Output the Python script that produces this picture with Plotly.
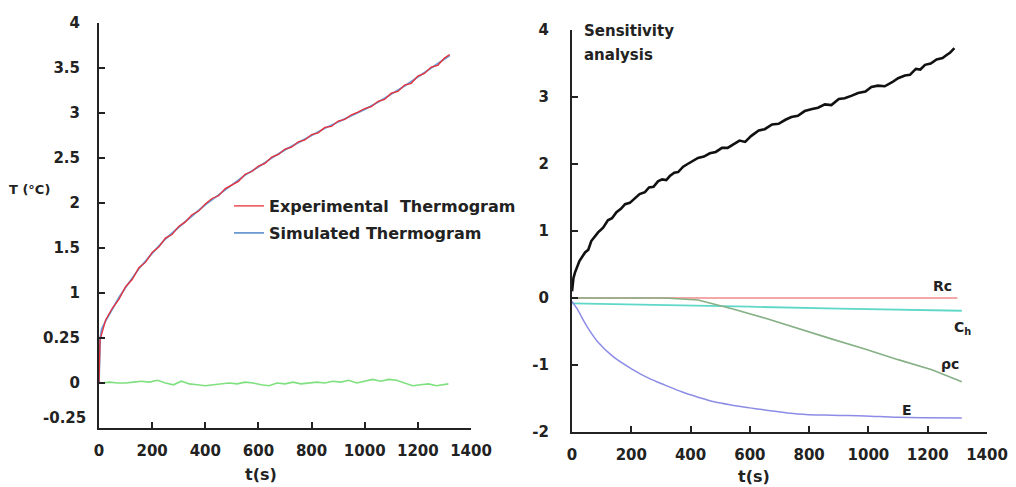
import plotly.graph_objects as go

# ---------------- Left panel data ----------------
sim_t = [0, 4, 10, 25, 50, 75, 100, 150, 200, 250, 300, 350, 400, 450, 500, 550, 600,
         650, 700, 750, 800, 850, 900, 950, 1000, 1050, 1100, 1150, 1200, 1250, 1300, 1320]
sim_T = [0.0, 0.48, 0.6, 0.69, 0.82, 0.95, 1.06, 1.27, 1.44, 1.60, 1.73, 1.86, 1.98, 2.09,
         2.20, 2.31, 2.40, 2.50, 2.59, 2.67, 2.75, 2.83, 2.90, 2.97, 3.04, 3.12, 3.21, 3.30,
         3.40, 3.50, 3.60, 3.64]

exp_t = [0, 4, 25, 50, 75, 100, 125, 150, 175, 200, 225, 250, 275, 300, 325, 350, 375, 400,
         425, 450, 475, 500, 525, 550, 575, 600, 625, 650, 675, 700, 725, 750, 775, 800, 825,
         850, 875, 900, 925, 950, 975, 1000, 1025, 1050, 1075, 1100, 1125, 1150, 1175, 1200,
         1225, 1250, 1275, 1300, 1320]
exp_T = [0.0, 0.48, 0.70, 0.83, 0.93, 1.07, 1.15, 1.28, 1.34, 1.45, 1.51, 1.61, 1.65, 1.74,
         1.79, 1.87, 1.91, 1.99, 2.05, 2.08, 2.16, 2.20, 2.24, 2.32, 2.35, 2.41, 2.44, 2.51,
         2.54, 2.60, 2.62, 2.68, 2.70, 2.76, 2.78, 2.84, 2.85, 2.91, 2.93, 2.98, 3.01, 3.05,
         3.07, 3.13, 3.15, 3.22, 3.24, 3.31, 3.33, 3.41, 3.44, 3.51, 3.53, 3.61, 3.65]

res_t = [10, 40, 70, 100, 130, 160, 190, 220, 250, 280, 310, 340, 370, 400, 430, 460, 490,
         520, 550, 580, 610, 640, 670, 700, 730, 760, 790, 820, 850, 880, 910, 940, 970, 1000,
         1030, 1060, 1090, 1120, 1150, 1180, 1210, 1240, 1270, 1300, 1315]
res_T = [0.0, 0.01, 0.0, 0.0, 0.01, 0.02, 0.01, 0.03, 0.0, -0.02, 0.02, -0.01, -0.02, -0.03,
         -0.02, -0.01, 0.0, -0.01, 0.01, 0.0, -0.02, -0.03, 0.0, -0.01, 0.01, -0.01, 0.0, 0.01,
         0.0, 0.02, 0.01, 0.03, 0.0, 0.02, 0.04, 0.02, 0.04, 0.03, 0.0, -0.03, -0.02, -0.01,
         -0.03, -0.02, -0.01]

left_ytick_vals = [0, 0.5, 1, 1.5, 2, 2.5, 3, 3.5, 4]
left_ytick_text = ["0", "0.25", "1", "1.5", "2", "2.5", "3", "3.5", "4"]
xtick_vals = [0, 200, 400, 600, 800, 1000, 1200, 1400]
xtick_text = ["0", "200", "400", "600", "800", "1000", "1200", "1400"]

# ---------------- Right panel data ----------------
sens_t = [0, 5, 10, 25, 44, 55, 65, 88, 105, 121, 135, 150, 165, 179, 195, 210, 228, 246,
          260, 275, 290, 304, 318, 330, 345, 358, 375, 390, 408, 425, 445, 465, 485, 506,
          525, 545, 565, 584, 605, 630, 650, 675, 697, 720, 740, 762, 785, 810, 830, 853,
          875, 900, 920, 944, 965, 990, 1010, 1032, 1055, 1080, 1100, 1123, 1140, 1160,
          1175, 1191, 1210, 1230, 1250, 1265, 1275, 1290]
sens_T = [0.1, 0.3, 0.38, 0.55, 0.68, 0.72, 0.85, 0.98, 1.05, 1.16, 1.19, 1.28, 1.33, 1.40,
          1.42, 1.48, 1.55, 1.58, 1.65, 1.66, 1.74, 1.77, 1.76, 1.82, 1.87, 1.88, 1.96, 2.00,
          2.04, 2.09, 2.11, 2.16, 2.18, 2.24, 2.24, 2.29, 2.35, 2.33, 2.42, 2.50, 2.52, 2.59,
          2.60, 2.66, 2.70, 2.72, 2.79, 2.82, 2.84, 2.89, 2.88, 2.97, 2.98, 3.02, 3.06, 3.08,
          3.15, 3.17, 3.16, 3.22, 3.28, 3.32, 3.33, 3.42, 3.41, 3.48, 3.50, 3.56, 3.58, 3.63,
          3.66, 3.73]

rc_t = [0, 1300]
rc_s = [0.0, 0.0]

ch_t = [0, 300, 600, 900, 1315]
ch_s = [-0.08, -0.10, -0.13, -0.16, -0.19]

rhoc_t = [0, 200, 314, 425, 540, 650, 762, 875, 988, 1100, 1214, 1315]
rhoc_s = [0.0, 0.0, 0.0, -0.03, -0.16, -0.30, -0.46, -0.61, -0.76, -0.92, -1.07, -1.25]

e_t = [0, 17, 50, 88, 140, 202, 260, 314, 370, 425, 480, 540, 600, 651, 762, 877, 988, 1100, 1315]
e_s = [-0.05, -0.16, -0.42, -0.66, -0.88, -1.06, -1.20, -1.30, -1.40, -1.48, -1.55, -1.60,
       -1.64, -1.67, -1.73, -1.75, -1.76, -1.78, -1.79]

right_ytick_vals = [-2, -1, 0, 1, 2, 3, 4]
right_ytick_text = ["-2", "-1", "0", "1", "2", "3", "4"]

FONT = "DejaVu Sans"
INK = "#222222"

fig = go.Figure()

# left panel traces
fig.add_trace(go.Scatter(x=sim_t, y=sim_T, mode="lines", name="Simulated Thermogram",
                         line=dict(color="#6c9bd2", width=1.8), xaxis="x", yaxis="y",
                         legend="legend2"))
fig.add_trace(go.Scatter(x=exp_t, y=exp_T, mode="lines", name="Experimental\u00a0 Thermogram",
                         line=dict(color="#e8303a", width=1.3),
                         xaxis="x", yaxis="y", legend="legend"))
fig.add_trace(go.Scatter(x=res_t, y=res_T, mode="lines", showlegend=False,
                         line=dict(color="#7fe07f", width=1.6), xaxis="x", yaxis="y"))

# right panel traces
fig.add_trace(go.Scatter(x=rc_t, y=rc_s, mode="lines", showlegend=False,
                         line=dict(color="#f08a8a", width=1.5), xaxis="x2", yaxis="y2"))
fig.add_trace(go.Scatter(x=ch_t, y=ch_s, mode="lines", showlegend=False,
                         line=dict(color="#5fd8c8", width=1.8), xaxis="x2", yaxis="y2"))
fig.add_trace(go.Scatter(x=rhoc_t, y=rhoc_s, mode="lines", showlegend=False,
                         line=dict(color="#86b086", width=1.6), xaxis="x2", yaxis="y2"))
fig.add_trace(go.Scatter(x=e_t, y=e_s, mode="lines", line_shape="spline", showlegend=False,
                         line=dict(color="#8c8ce6", width=1.5), xaxis="x2", yaxis="y2"))
fig.add_trace(go.Scatter(x=sens_t, y=sens_T, mode="lines", showlegend=False,
                         line=dict(color="#111111", width=2.6), xaxis="x2", yaxis="y2"))

# the page body has an 8px margin: size the figure so it fills the window exactly
PAGE_OFF = 8
W, H = 1016 - PAGE_OFF, 487 - PAGE_OFF
def fx(px):
    return (px - PAGE_OFF) / W
def fy(py):
    return (H - (py - PAGE_OFF)) / H

axis_common = dict(showline=True, linecolor=INK, linewidth=2, ticks="inside",
                   ticklen=6, tickwidth=2, tickcolor=INK, showgrid=False,
                   zeroline=False, automargin=False,
                   tickfont=dict(family=FONT, size=15, color=INK, weight="bold"))

legend_font = dict(family=FONT, size=16, color=INK, weight="bold")

fig.update_layout(
    width=W, height=H,
    margin=dict(l=0, r=0, t=0, b=0),
    paper_bgcolor="white", plot_bgcolor="white",
    font=dict(family=FONT, color=INK),
    xaxis=dict(domain=[fx(99), fx(471)], range=[0, 1400], tickvals=xtick_vals,
               ticktext=xtick_text, anchor="y", ticklabelstandoff=8, **axis_common),
    yaxis=dict(domain=[fy(428), fy(23)], range=[-0.5, 4], tickvals=left_ytick_vals,
               ticktext=left_ytick_text, anchor="x", ticklabelstandoff=14, **axis_common),
    xaxis2=dict(domain=[fx(572), fx(987)], range=[0, 1400], tickvals=xtick_vals,
                ticktext=xtick_text, anchor="y2", ticklabelstandoff=8, **axis_common),
    yaxis2=dict(domain=[fy(432), fy(30)], range=[-2, 4], tickvals=right_ytick_vals,
                ticktext=right_ytick_text, anchor="x2", ticklabelstandoff=18, **axis_common),
    legend=dict(x=fx(229), y=fy(189), xanchor="left", yanchor="top",
                bgcolor="rgba(0,0,0,0)", itemwidth=30, font=legend_font),
    legend2=dict(x=fx(229), y=fy(216), xanchor="left", yanchor="top",
                 bgcolor="rgba(0,0,0,0)", itemwidth=30, font=legend_font),
    showlegend=True,
)

def bfont(size):
    return dict(family=FONT, size=size, color=INK, weight="bold")

ann = [
    dict(text="-0.25", x=fx(88), y=fy(418), xref="paper", yref="paper",
         xanchor="right", yanchor="middle", showarrow=False, font=bfont(15)),
    dict(text="T (°C)", x=fx(29), y=fy(190), xref="paper", yref="paper",
         xanchor="center", yanchor="middle", showarrow=False, font=bfont(13)),
    dict(text="t(s)", x=fx(261), y=fy(474), xref="paper", yref="paper",
         xanchor="center", yanchor="middle", showarrow=False, font=bfont(16)),
    dict(text="t(s)", x=fx(754), y=fy(476), xref="paper", yref="paper",
         xanchor="center", yanchor="middle", showarrow=False, font=bfont(16)),
    dict(text="Sensitivity", x=fx(582), y=fy(31), xref="paper", yref="paper",
         xanchor="left", yanchor="middle", showarrow=False, font=bfont(15)),
    dict(text="analysis", x=fx(582), y=fy(55), xref="paper", yref="paper",
         xanchor="left", yanchor="middle", showarrow=False, font=bfont(15)),
    dict(text="Rc", x=1251, y=0.18, xref="x2", yref="y2",
         xanchor="center", yanchor="middle", showarrow=False, font=bfont(14)),
    dict(text="C<sub>h</sub>", x=1319, y=-0.45, xref="x2", yref="y2",
         xanchor="center", yanchor="middle", showarrow=False, font=bfont(14)),
    dict(text="ρc", x=1275, y=-0.99, xref="x2", yref="y2",
         xanchor="center", yanchor="middle", showarrow=False, font=bfont(14)),
    dict(text="E", x=1130, y=-1.67, xref="x2", yref="y2",
         xanchor="center", yanchor="middle", showarrow=False, font=bfont(14)),
]
fig.update_layout(annotations=ann)

fig.write_html("out.html")
